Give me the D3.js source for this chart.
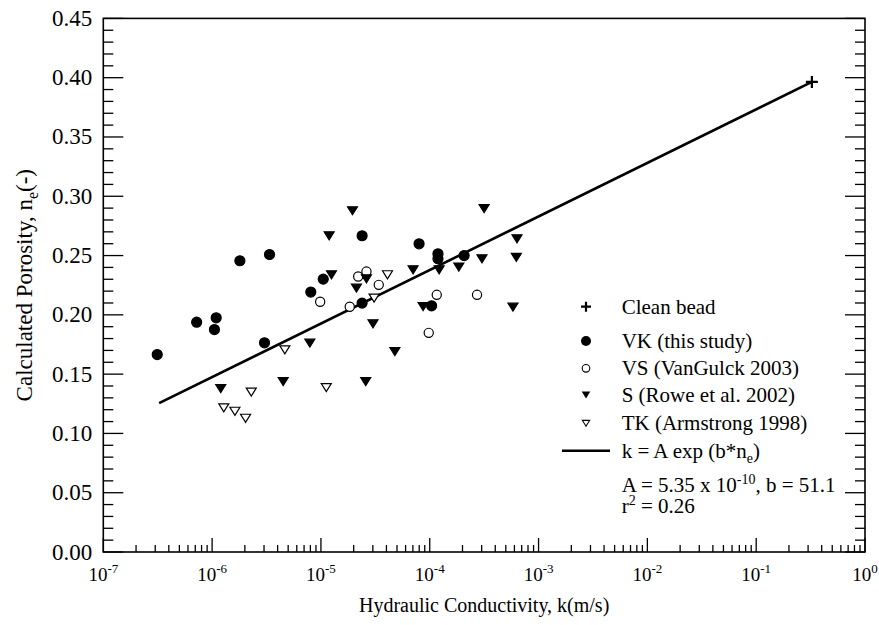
<!DOCTYPE html>
<html><head><meta charset="utf-8">
<script src="https://cdn.jsdelivr.net/npm/d3@7"></script>
<style>
body{margin:0;background:#fff}
</style>
</head><body>
<svg id="c" width="879" height="625" font-family="'Liberation Serif', 'DejaVu Serif', 'Times New Roman', serif"></svg>
<script>
// ---- data ----
const vkK = [3.13e-7,7.21e-7,1.09e-6,1.05e-6,1.80e-6,3.37e-6,3.03e-6,8.07e-6,1.05e-5,2.39e-5,2.39e-5,7.98e-5,1.04e-4,1.19e-4,1.19e-4,2.07e-4];
const vkN = [0.1665,0.1938,0.1975,0.1876,0.2456,0.2509,0.1764,0.2192,0.2301,0.2667,0.2099,0.2599,0.2076,0.2515,0.2473,0.2500];
const vsK = [9.84e-6,1.84e-5,2.20e-5,2.62e-5,3.40e-5,1.16e-4,9.79e-5,2.72e-4];
const vsN = [0.2110,0.2068,0.2323,0.2365,0.2253,0.2169,0.1848,0.2169];
const sK = [1.95e-5,1.19e-5,1.25e-5,2.12e-5,2.62e-5,3.01e-5,4.78e-5,7.03e-5,8.69e-5,1.22e-4,1.85e-4,7.91e-6,4.50e-6,2.58e-5,3.16e-4,6.34e-4,6.25e-4,3.02e-4,5.82e-4,1.20e-6];
const sN = [0.2878,0.2667,0.2338,0.2225,0.2304,0.1924,0.1690,0.2380,0.2070,0.2380,0.2403,0.1761,0.1437,0.1437,0.2895,0.2641,0.2484,0.2473,0.2065,0.1378];
const tkK = [4.66e-6,2.29e-6,1.28e-6,1.62e-6,2.03e-6,1.12e-5,4.09e-5,3.08e-5];
const tkN = [0.1705,0.1348,0.1215,0.1187,0.1128,0.1386,0.2338,0.2141];
const beadK = [0.325];
const beadN = [0.3964];
const fitK = [3.26e-7, 0.325];
const fitN = [0.1255, 0.3964];
const xTickExp = [-7,-6,-5,-4,-3,-2,-1,0];
const yTicks = [0,0.05,0.10,0.15,0.20,0.25,0.30,0.35,0.40,0.45];
const legendLabels = ["Clean bead","VK (this study)","VS (VanGulck 2003)","S (Rowe et al. 2002)","TK (Armstrong 1998)"];

// ---- layout ----
const W = 879, H = 625;
const m = {l:103.3, r:14, t:18.4, b:73};
const svg = d3.select("#c");
const x = d3.scaleLog().domain([1e-7,1]).range([m.l, W-m.r]);
const y = d3.scaleLinear().domain([0,0.45]).range([H-m.b, m.t]);
const x0 = m.l, x1 = W-m.r, y0 = H-m.b, y1 = m.t;

// minor/major ticks
const g = svg.append("g");
const xMinor = [];
for (let e=-7;e<0;e++) for (let d=2; d<=9; d++) xMinor.push(d*Math.pow(10,e));
const yMinor = d3.range(0,46).map(i=>i/100).filter(v=>Math.round(v*100)%5!==0);
const tick = (x1_,y1_,x2_,y2_)=>g.append("line").attr("x1",x1_).attr("y1",y1_).attr("x2",x2_).attr("y2",y2_).attr("stroke","#000").attr("stroke-width",1.3);
xMinor.forEach(v=>{ tick(x(v),y0,x(v),y0-7); });
xTickExp.forEach(e=>{ const v=Math.pow(10,e); tick(x(v),y0,x(v),y0-14); });
yMinor.forEach(v=>{ tick(x0,y(v),x0+10,y(v)); tick(x1,y(v),x1-10,y(v)); });
yTicks.forEach(v=>{ tick(x0,y(v),x0+20,y(v)); tick(x1,y(v),x1-20,y(v)); });

// frame
svg.append("rect").attr("x",x0).attr("y",y1).attr("width",x1-x0).attr("height",y0-y1)
  .attr("fill","none").attr("stroke","#000").attr("stroke-width",1.6);

// tick labels
yTicks.forEach(v=>{
  svg.append("text").attr("x",x0-11).attr("y",y(v)+7.5).attr("text-anchor","end")
    .attr("font-size",23).text(v.toFixed(2));
});
xTickExp.forEach(e=>{
  const t = svg.append("text").attr("x",x(Math.pow(10,e))).attr("y",y0+29).attr("text-anchor","middle").attr("font-size",19);
  t.append("tspan").text("10");
  t.append("tspan").attr("dy",-8).attr("font-size",13).text(String(e));
});

// axis titles
svg.append("text").attr("x",(x0+x1)/2).attr("y",612).attr("text-anchor","middle").attr("font-size",20)
  .text("Hydraulic Conductivity, k(m/s)");
const yt = svg.append("text").attr("transform",`translate(32,${(y0+y1)/2}) rotate(-90)`).attr("text-anchor","middle").attr("font-size",23);
yt.append("tspan").text("Calculated Porosity, n");
yt.append("tspan").attr("dy",6).attr("font-size",16).text("e");
yt.append("tspan").attr("dy",-6).text("(-)");

// fit line
const line = d3.line().x(d=>x(d[0])).y(d=>y(d[1]));
svg.append("path").datum(fitK.map((k,i)=>[k,fitN[i]])).attr("d",line)
  .attr("fill","none").attr("stroke","#000").attr("stroke-width",2.6);

// markers
const down = (s)=>`M${-s},${-s*0.8}L${s},${-s*0.8}L0,${s*0.8}Z`;
function circles(K,N,r,filled){
  svg.append("g").selectAll("circle").data(K.map((k,i)=>[k,N[i]])).join("circle")
    .attr("cx",d=>x(d[0])).attr("cy",d=>y(d[1])).attr("r",r)
    .attr("fill",filled?"#000":"#fff").attr("stroke","#000").attr("stroke-width",1.2);
}
function tris(K,N,s,filled){
  svg.append("g").selectAll("path").data(K.map((k,i)=>[k,N[i]])).join("path")
    .attr("transform",d=>`translate(${x(d[0])},${y(d[1])})`).attr("d",down(s))
    .attr("fill",filled?"#000":"#fff").attr("stroke","#000").attr("stroke-width",1.2);
}
circles(vsK,vsN,4.6,false);
tris(tkK,tkN,5,false);
tris(sK,sN,5,true);
circles(vkK,vkN,5,true);
svg.append("g").selectAll("path").data(beadK.map((k,i)=>[k,beadN[i]])).join("path")
  .attr("transform",d=>`translate(${x(d[0])},${y(d[1])})`).attr("d","M-6,0H6M0,-6V6")
  .attr("stroke","#000").attr("stroke-width",2.2).attr("fill","none");

// legend
const lx = 586, tx = 621.7;
const rowsY = [306.7,341,368.3,395,423.3];
const fs = 21;
legendLabels.forEach((lab,i)=>{
  svg.append("text").attr("x",tx).attr("y",rowsY[i]+7).attr("font-size",fs).text(lab);
});
svg.append("path").attr("transform",`translate(${lx},${rowsY[0]})`).attr("d","M-5,0H5M0,-5V5").attr("stroke","#000").attr("stroke-width",2.2);
svg.append("circle").attr("cx",lx).attr("cy",rowsY[1]).attr("r",5).attr("fill","#000");
svg.append("circle").attr("cx",lx).attr("cy",rowsY[2]).attr("r",3.8).attr("fill","#fff").attr("stroke","#000").attr("stroke-width",1.1);
svg.append("path").attr("transform",`translate(${lx},${rowsY[3]})`).attr("d",down(4.3)).attr("fill","#000");
svg.append("path").attr("transform",`translate(${lx},${rowsY[4]})`).attr("d",down(3.6)).attr("fill","#fff").attr("stroke","#000").attr("stroke-width",1.1);
svg.append("line").attr("x1",562).attr("x2",610).attr("y1",450.7).attr("y2",450.7).attr("stroke","#000").attr("stroke-width",2.6);
const t1 = svg.append("text").attr("x",tx).attr("y",457.5).attr("font-size",fs);
t1.append("tspan").text("k = A exp (b*n");
t1.append("tspan").attr("dy",5).attr("font-size",14).text("e");
t1.append("tspan").attr("dy",-5).text(")");
const t2 = svg.append("text").attr("x",tx).attr("y",491.7).attr("font-size",fs);
t2.append("tspan").text("A = 5.35 x 10");
t2.append("tspan").attr("dy",-8).attr("font-size",14).text("-10");
t2.append("tspan").attr("dy",8).text(", b = 51.1");
const t3 = svg.append("text").attr("x",tx).attr("y",513.3).attr("font-size",fs);
t3.append("tspan").text("r");
t3.append("tspan").attr("dy",-8).attr("font-size",14).text("2");
t3.append("tspan").attr("dy",8).text(" = 0.26");
</script>
</body></html>
